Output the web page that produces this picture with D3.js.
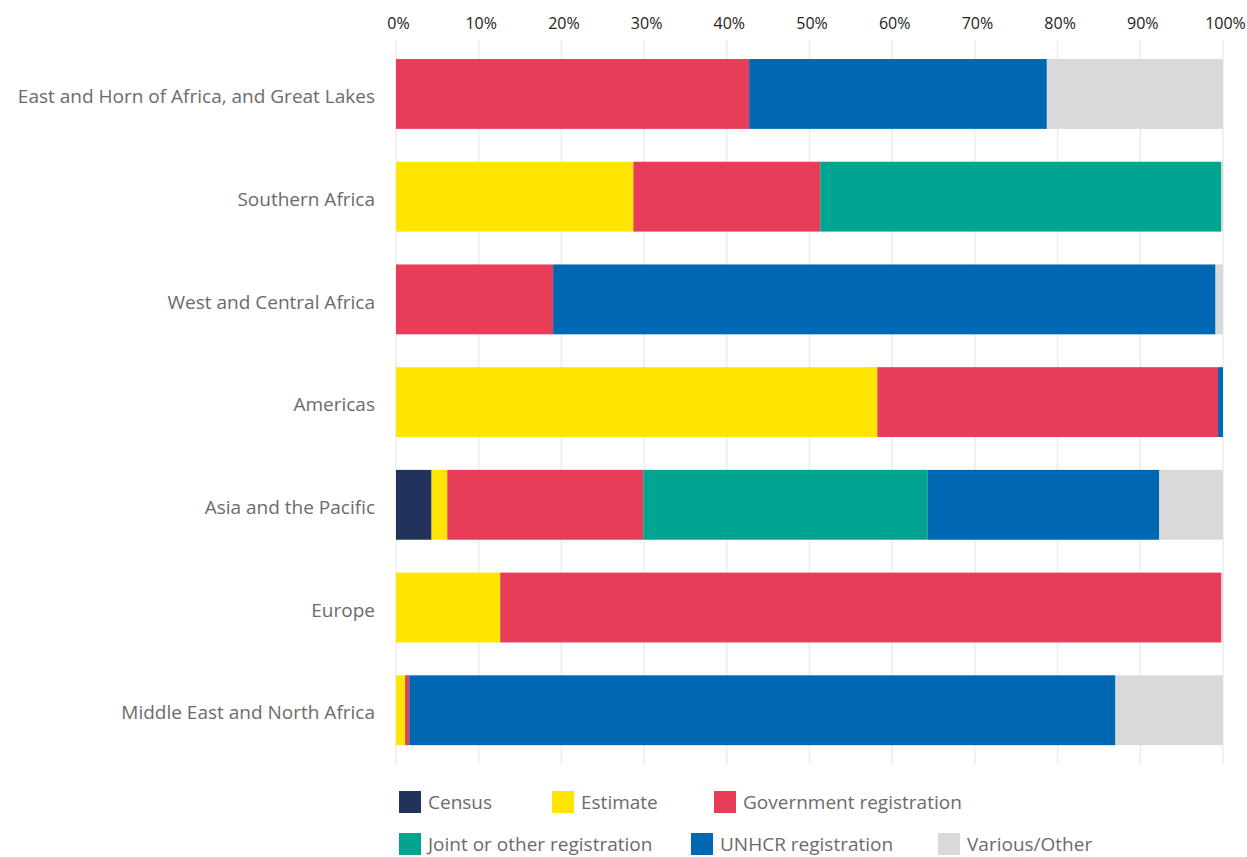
<!DOCTYPE html>
<html><head><meta charset="utf-8">
<script src="https://cdn.jsdelivr.net/npm/d3@7"></script>
<style>body{margin:0;background:#fff;}svg{display:block;font-family:"Open Sans",sans-serif;}</style>
</head><body>
<svg id="c" width="1247" height="857"></svg>
<script>
const regions = ["East and Horn of Africa, and Great Lakes","Southern Africa","West and Central Africa","Americas","Asia and the Pacific","Europe","Middle East and North Africa"];
const seriesNames = ["Census","Estimate","Government registration","Joint or other registration","UNHCR registration","Various/Other"];
const colors = ["#21335b","#ffe600","#e83d59","#00a491","#0068b3","#d9d9d9"];
const census = [0,0,0,0,4.3,0,0];
const estimate = [0,28.7,0,58.2,1.9,12.6,1.1];
const government = [42.7,22.6,19.0,41.2,23.7,87.2,0.5];
const joint = [0,48.5,0,0,34.4,0,0];
const unhcr = [36.0,0,80.1,0.6,28.0,0,85.4];
const various = [21.3,0.2,0.9,0,7.7,0.2,13.0];
const tickValues = [0,10,20,30,40,50,60,70,80,90,100];

const seriesArrays = [census,estimate,government,joint,unhcr,various];
const rows = regions.map((r,i)=>{const o={region:r};seriesNames.forEach((s,j)=>o[s]=seriesArrays[j][i]);return o;});
const stacked = d3.stack().keys(seriesNames)(rows);

const svg = d3.select("#c");
const x = d3.scaleLinear().domain([0,100]).range([396,1223]);
const y = d3.scaleBand().domain(regions).range([42.6,761.6]).paddingInner(0.32).paddingOuter(0.16);

// gridlines
svg.append("g").selectAll("line").data(tickValues).join("line")
  .attr("x1",d=>x(d)).attr("x2",d=>x(d)).attr("y1",40).attr("y2",764)
  .attr("stroke","#ececec").attr("stroke-width",1.5);

// top axis
const ax = svg.append("g").attr("transform","translate(2,40)")
  .call(d3.axisTop(x).tickValues(tickValues).tickFormat(d=>d+"%").tickSize(0).tickPadding(11));
ax.select(".domain").remove();
ax.selectAll("text").attr("font-size",16).attr("fill","#222").attr("font-family","'Open Sans',sans-serif");

// bars
svg.append("g").selectAll("g").data(stacked).join("g")
  .attr("fill",(d,i)=>colors[i])
  .selectAll("rect").data(d=>d).join("rect")
  .attr("x",d=>x(d[0])).attr("width",d=>Math.max(0,x(d[1])-x(d[0])))
  .attr("y",d=>y(d.data.region)).attr("height",y.bandwidth());

// row labels
const yl = svg.append("g").attr("transform","translate(386,0)")
  .call(d3.axisLeft(y).tickSize(0).tickPadding(11));
yl.select(".domain").remove();
yl.selectAll("text").attr("font-size",19).attr("fill","#6b6b6b").attr("font-family","'Open Sans',sans-serif").attr("dy","0.48em");

// legend
const legendPos = [[399,791],[552,791],[714,791],[399,833],[691,833],[938,833]];
const lg = svg.append("g").selectAll("g").data(seriesNames).join("g")
  .attr("transform",(d,i)=>`translate(${legendPos[i][0]},${legendPos[i][1]})`);
lg.append("rect").attr("width",22).attr("height",22).attr("fill",(d,i)=>colors[i]);
lg.append("text").attr("x",29).attr("y",11).attr("dy","0.36em").attr("font-size",19).attr("fill","#6b6b6b").text(d=>d);
</script>
</body></html>
